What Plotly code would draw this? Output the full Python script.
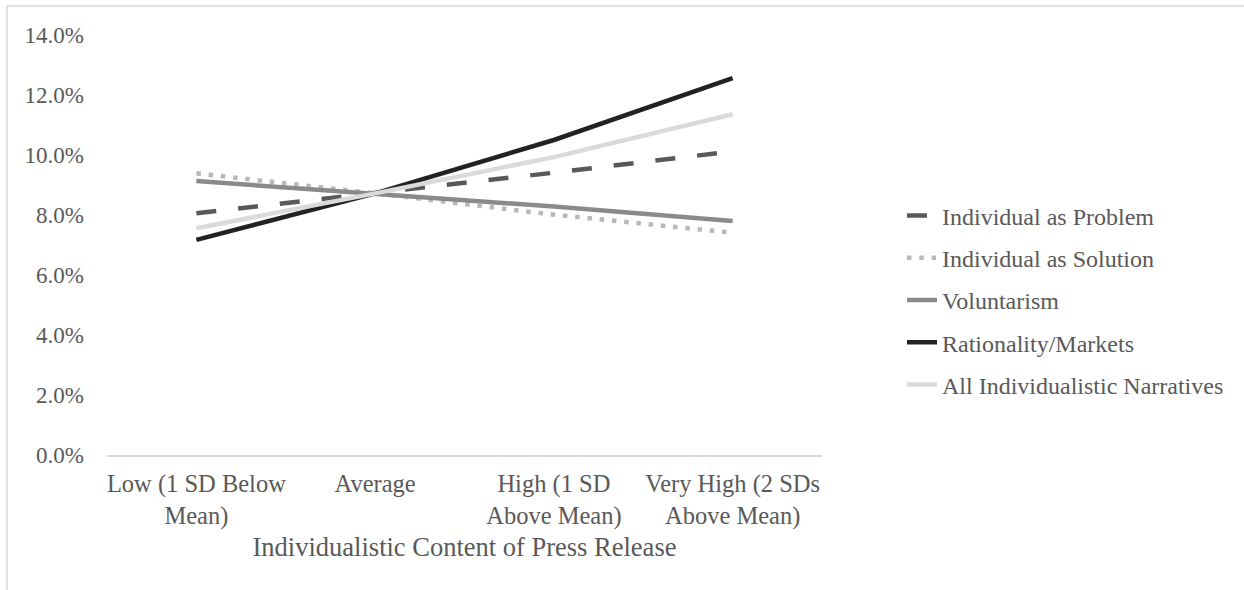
import plotly.graph_objects as go

# ---- data ----
categories = ["Low (1 SD Below Mean)", "Average", "High (1 SD Above Mean)", "Very High (2 SDs Above Mean)"]
tick_labels = ["Low (1 SD Below<br>Mean)", "Average", "High (1 SD<br>Above Mean)", "Very High (2 SDs<br>Above Mean)"]

individual_problem = [0.0806, 0.0872, 0.0941, 0.1012]
individual_solution = [0.0939, 0.0872, 0.0801, 0.0741]
voluntarism = [0.0913, 0.0872, 0.0828, 0.0780]
rationality_markets = [0.0717, 0.0872, 0.1050, 0.1256]
all_individualistic = [0.0756, 0.0872, 0.0993, 0.1136]

series_names = ["Individual as Problem", "Individual as Solution", "Voluntarism",
                "Rationality/Markets", "All Individualistic Narratives"]

FONT = "Times New Roman, Liberation Serif, serif"
TXT = "#595959"

styles = [
    dict(color="#595959", dash="20px,22px"),
    dict(color="#b8b8b8", dash="4.5px,7.8px"),
    dict(color="#8a8a8a", dash="solid"),
    dict(color="#222222", dash="solid"),
    dict(color="#dadada", dash="solid"),
]
series = [individual_problem, individual_solution, voluntarism, rationality_markets, all_individualistic]

fig = go.Figure()
for i, (name, vals, st) in enumerate(zip(series_names, series, styles)):
    fig.add_trace(go.Scatter(
        x=categories, y=vals, name=name, mode="lines",
        legendgroup=f"g{i}",
        line=dict(color=st["color"], width=4.5, dash=st["dash"]),
        hovertemplate="%{y:.1%}<extra>" + name + "</extra>",
    ))

W, H = 1244, 590
L, R, T, B = 107, W - 822, 35, H - 455
pw, ph = W - L - R, H - T - B

def px_x(x):
    return (x - L) / pw

def px_y(y):
    return (H - B - y) / ph

fig.update_layout(
    width=W, height=H,
    margin=dict(l=L, r=R, t=T, b=B, autoexpand=False),
    paper_bgcolor="white", plot_bgcolor="white",
    font=dict(family=FONT, size=24, color=TXT),
    showlegend=True,
    legend=dict(
        x=px_x(902), y=px_y(300), xanchor="left", yanchor="middle",
        traceorder="grouped", tracegroupgap=8,
        font=dict(family=FONT, size=24, color=TXT),
        bgcolor="rgba(0,0,0,0)",
    ),
    xaxis=dict(
        type="category", categoryorder="array", categoryarray=categories,
        tickmode="array", tickvals=categories, ticktext=tick_labels,
        range=[-0.5, 3.5],
        showline=True, linecolor="#d9d9d9", linewidth=1.5,
        showgrid=False, zeroline=False, ticks="",
        ticklabelstandoff=6,
        tickfont=dict(family=FONT, size=24.5, color=TXT),
        title=dict(text="Individualistic Content of Press Release",
                   font=dict(family=FONT, size=26.5, color=TXT), standoff=8),
        automargin=False,
    ),
    yaxis=dict(
        range=[0, 0.14], dtick=0.02, tick0=0, tickformat=".1%",
        showline=False, showgrid=False, zeroline=False, ticks="",
        ticklabelstandoff=22,
        tickfont=dict(family=FONT, size=23, color=TXT),
        automargin=False,
    ),
    shapes=[
        dict(type="line", xref="paper", yref="paper",
             x0=px_x(7), x1=px_x(1260), y0=px_y(6), y1=px_y(6),
             line=dict(color="#d9d9d9", width=1.5)),
        dict(type="line", xref="paper", yref="paper",
             x0=px_x(7), x1=px_x(7), y0=px_y(6), y1=px_y(600),
             line=dict(color="#d9d9d9", width=1.5)),
    ],
)

fig.write_html("out.html")
